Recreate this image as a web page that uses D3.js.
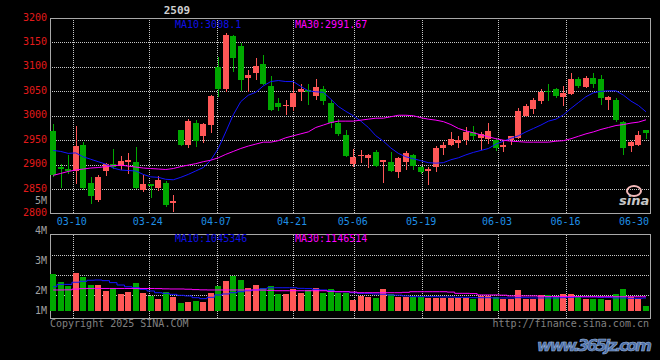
<!DOCTYPE html>
<html>
<head>
<meta charset="utf-8">
<script src="https://cdn.jsdelivr.net/npm/d3@7"></script>
<style>
    body { margin: 0; background: #000; }
    svg { display: block; }
</style>
</head>
<body>
<div id="chart"></div>
<script>
/*
 * K-line chart 2509, daily candles 2025-03-04 .. 2025-06-30
 */
var dates = [
    "03-04", "03-05", "03-06", "03-07", "03-10", "03-11", "03-12", "03-13", "03-14", "03-17",
    "03-18", "03-19", "03-20", "03-21", "03-24", "03-25", "03-26", "03-27", "03-28", "03-31",
    "04-01", "04-02", "04-03", "04-07", "04-08", "04-09", "04-10", "04-11", "04-14", "04-15",
    "04-16", "04-17", "04-18", "04-21", "04-22", "04-23", "04-24", "04-25", "04-28", "04-29",
    "04-30", "05-06", "05-07", "05-08", "05-09", "05-12", "05-13", "05-14", "05-15", "05-16",
    "05-19", "05-20", "05-21", "05-22", "05-23", "05-26", "05-27", "05-28", "05-29", "05-30",
    "06-03", "06-04", "06-05", "06-06", "06-09", "06-10", "06-11", "06-12", "06-13", "06-16",
    "06-17", "06-18", "06-19", "06-20", "06-23", "06-24", "06-25", "06-26", "06-27", "06-30"
];
var openP = [
    2969, 2895, 2891, 2886, 2940, 2862, 2828, 2886, 2901, 2898,
    2905, 2905, 2848, 2860, 2853, 2862, 2822, 2971, 2940, 2986,
    2959, 2981, 3100, 3055, 3163, 3142, 3078, 3087, 3106, 3061,
    3027, 3019, 3018, 3048, 3052, 3040, 3055, 3027, 2986, 2961,
    2902, 2917, 2914, 2926, 2905, 2906, 2884, 2906, 2920, 2896,
    2888, 2896, 2935, 2940, 2945, 2950, 2966, 2955, 2952, 2950,
    2937, 2950, 2955, 3000, 3014, 3030, 3051, 3055, 3039, 3044,
    3075, 3059, 3078, 3075, 3032, 3032, 2988, 2939, 2940, 2970
];
var highP = [
    2983, 2901, 2920, 2979, 2946, 2875, 2879, 2903, 2931, 2918,
    2924, 2936, 2879, 2861, 2877, 2867, 2838, 2971, 2993, 2991,
    2986, 3042, 3121, 3169, 3165, 3148, 3093, 3119, 3124, 3081,
    3037, 3032, 3066, 3064, 3065, 3075, 3061, 3032, 2993, 2971,
    2931, 2930, 2922, 2930, 2909, 2925, 2916, 2927, 2922, 2898,
    2895, 2938, 2947, 2967, 2959, 2976, 2979, 2966, 2986, 2954,
    2950, 2959, 3015, 3024, 3037, 3055, 3065, 3057, 3061, 3087,
    3080, 3081, 3087, 3083, 3040, 3036, 2989, 2949, 2969, 2971
];
var lowP = [
    2875, 2852, 2881, 2860, 2848, 2820, 2824, 2877, 2892, 2888,
    2880, 2851, 2845, 2832, 2847, 2814, 2804, 2938, 2933, 2937,
    2945, 2964, 3039, 3048, 3090, 3050, 3049, 3073, 3063, 3010,
    3010, 3001, 3010, 3030, 3022, 3032, 3023, 2974, 2959, 2916,
    2896, 2904, 2894, 2896, 2863, 2884, 2873, 2888, 2890, 2880,
    2858, 2884, 2919, 2939, 2935, 2940, 2950, 2930, 2942, 2927,
    2925, 2940, 2953, 2998, 3004, 3024, 3030, 3037, 3019, 3042,
    3056, 3057, 3056, 3021, 3012, 2988, 2920, 2925, 2939, 2953
];
var closeP = [
    2879, 2892, 2886, 2938, 2853, 2836, 2875, 2901, 2895, 2908,
    2909, 2852, 2860, 2857, 2868, 2818, 2826, 2940, 2989, 2949,
    2984, 3040, 3055, 3165, 3119, 3074, 3083, 3102, 3065, 3012,
    3018, 3022, 3046, 3055, 3048, 3059, 3030, 2986, 2963, 2918,
    2916, 2920, 2920, 2898, 2909, 2886, 2914, 2924, 2898, 2885,
    2891, 2933, 2940, 2953, 2950, 2967, 2959, 2962, 2969, 2933,
    2940, 2959, 3010, 3020, 3032, 3048, 3048, 3040, 3046, 3075,
    3061, 3078, 3065, 3037, 3039, 2991, 2935, 2947, 2961, 2964
];
var ma10 = [
    2929, 2927, 2923, 2924, 2916, 2911, 2906, 2901, 2893, 2889,
    2888, 2887, 2880, 2875, 2874, 2870, 2869, 2874, 2880, 2887,
    2894, 2909, 2933, 2967, 3002, 3029, 3042, 3048, 3061, 3070,
    3072, 3070, 3070, 3060, 3051, 3049, 3048, 3034, 3019, 3009,
    3000, 2989, 2976, 2959, 2948, 2934, 2923, 2916, 2912, 2908,
    2904, 2903, 2904, 2910, 2914, 2920, 2925, 2929, 2933, 2942,
    2948, 2954, 2959, 2967, 2974, 2981, 2989, 2993, 3002, 3015,
    3027, 3039, 3047, 3050, 3051, 3051, 3042, 3030, 3021, 3008.1
];
var ma30 = [
    2878, 2882, 2886, 2889, 2891, 2893, 2894, 2896, 2898, 2899,
    2897, 2895, 2893, 2892, 2891, 2890, 2892, 2896, 2899, 2902,
    2906, 2909, 2914, 2921, 2927, 2933, 2938, 2942, 2946, 2946,
    2949, 2955, 2959, 2963, 2967, 2976, 2981, 2986, 2989, 2989,
    2989, 2991, 2993, 2995, 2995, 2998, 3001, 3001, 3000, 2996,
    2993, 2991, 2988, 2982, 2974, 2969, 2965, 2961, 2957, 2953,
    2950, 2948, 2947, 2946, 2946, 2946, 2946, 2948, 2949, 2953,
    2958, 2963, 2967, 2972, 2976, 2980, 2982, 2985, 2987, 2991.67
];
// volume in millions
var volume = [
    3.00, 2.33, 2.01, 3.08, 2.71, 2.09, 2.09, 1.61, 1.82, 1.37,
    1.55, 2.25, 1.47, 1.23, 0.96, 1.55, 1.13, 0.64, 0.72, 0.83,
    0.70, 1.47, 2.01, 2.41, 2.84, 2.49, 1.82, 2.09, 1.82, 2.03,
    1.37, 1.37, 1.77, 1.47, 1.69, 1.82, 1.47, 1.77, 1.42, 1.47,
    0.88, 1.21, 1.13, 1.05, 1.77, 1.37, 1.15, 1.15, 1.10, 1.10,
    1.07, 1.04, 1.06, 1.08, 1.05, 1.07, 0.96, 1.21, 1.21, 1.10,
    0.96, 0.96, 1.69, 0.96, 0.96, 1.29, 1.26, 1.15, 1.37, 1.37,
    1.10, 0.96, 0.96, 0.96, 0.88, 1.37, 1.77, 1.10, 0.96, 0.40
];
var volMa10 = [
    1.95, 2.14, 2.14, 2.31, 2.39, 2.47, 2.49, 2.44, 2.28, 2.09,
    1.95, 1.87, 1.74, 1.61, 1.47, 1.42, 1.34, 1.26, 1.21, 1.07,
    0.99, 1.10, 1.29, 1.37, 1.47, 1.55, 1.63, 1.69, 1.79, 1.87,
    1.87, 1.87, 1.87, 1.82, 1.80, 1.74, 1.69, 1.63, 1.55, 1.55,
    1.47, 1.42, 1.42, 1.37, 1.35, 1.29, 1.27, 1.21, 1.15, 1.15,
    1.15, 1.15, 1.13, 1.13, 1.10, 1.10, 1.07, 1.07, 1.07, 1.05,
    1.05, 1.05, 1.07, 1.07, 1.05, 1.05, 1.05, 1.05, 1.07, 1.10,
    1.13, 1.13, 1.13, 1.10, 1.10, 1.05, 1.05, 1.02, 1.02, 1.045
];
var volMa30 = [
    1.69, 1.69, 1.70, 1.76, 1.80, 1.81, 1.81, 1.81, 1.81, 1.81,
    1.81, 1.81, 1.81, 1.81, 1.80, 1.78, 1.77, 1.77, 1.75, 1.72,
    1.70, 1.69, 1.69, 1.69, 1.69, 1.69, 1.69, 1.69, 1.68, 1.66,
    1.63, 1.63, 1.63, 1.63, 1.63, 1.63, 1.63, 1.58, 1.55, 1.55,
    1.52, 1.47, 1.47, 1.47, 1.47, 1.47, 1.47, 1.50, 1.55, 1.55,
    1.55, 1.55, 1.55, 1.52, 1.42, 1.42, 1.40, 1.29, 1.29, 1.29,
    1.27, 1.21, 1.21, 1.21, 1.21, 1.19, 1.16, 1.16, 1.16, 1.16,
    1.16, 1.15, 1.15, 1.15, 1.15, 1.15, 1.15, 1.15, 1.147, 1.147
];
var priceTicks = [3200, 3150, 3100, 3050, 3000, 2950, 2900, 2850, 2800];
var volTicks = [5, 4, 3, 2, 1];
var dateTicks = ["03-10", "03-24", "04-07", "04-21", "05-06", "05-19", "06-03", "06-16", "06-30"];
var title = "2509";
var maLabels = {price: ["MA10:3008.1", "MA30:2991.67"], vol: ["MA10:1045346", "MA30:1146514"]};

var W = 660, H = 360;
var left = 50, right = 650;
var pTop = 18, pBottom = 213.5;
var vTop = 234.5, vBottom = 318.5, vBase = 311;
var cUp = "#ff5757", cDown = "#00a800", cMa10 = "#1414ff", cMa30 = "#ff00ff";
var font = "'DejaVu Sans Mono', monospace";

var svg = d3.select("#chart").append("svg").attr("width", W).attr("height", H)
        .style("background", "#000");

var idx = d3.range(dates.length);
var x = d3.scaleBand().domain(idx).range([49.45, 649.75]).paddingInner(0.2).paddingOuter(0.1);
// date grid of the source sits on its own index scale
var xGrid = d3.scaleLinear().domain([1, dates.length]).range([left, right]);
var y = d3.scaleLinear().domain([2800, 3200]).range([pBottom, pTop]);
var yVol = d3.scaleLinear().domain([0, 4]).range([vBase, vBase - 4 * 12.44]);
var yVolLabel = d3.scaleLinear().domain([2, 3]).range([290.5, 260.5]);

function cx(i) {
    return Math.round(x(i) + x.bandwidth() / 2) + 0.5;
}

/*
 * grid and frames
 */
var gridDates = dateTicks.filter(function (d) { return d !== "06-30"; });
var grid = svg.append("g").attr("stroke", "#c8c8c8").attr("stroke-dasharray", "1,1")
        .attr("shape-rendering", "crispEdges");
grid.selectAll(".hp").data(priceTicks.slice(1, -1)).enter().append("line")
        .attr("x1", left).attr("x2", right)
        .attr("y1", function (d) { return Math.round(y(d)) + 0.5; })
        .attr("y2", function (d) { return Math.round(y(d)) + 0.5; });
grid.selectAll(".hv").data([1, 2, 3]).enter().append("line")
        .attr("x1", left).attr("x2", right)
        .attr("y1", function (d) { return vTop + d * 20 + 0.5; })
        .attr("y2", function (d) { return vTop + d * 20 + 0.5; });
gridDates.forEach(function (d) {
    var gx = Math.round(xGrid(dates.indexOf(d))) + 0.5;
    grid.append("line").attr("x1", gx).attr("x2", gx).attr("y1", pTop).attr("y2", pBottom);
    grid.append("line").attr("x1", gx).attr("x2", gx).attr("y1", vTop).attr("y2", vBottom);
});

var frame = svg.append("g").attr("fill", "none").attr("stroke", "#a8a8a8")
        .attr("shape-rendering", "crispEdges");
frame.append("rect").attr("x", left).attr("y", pTop).attr("width", right - left).attr("height", pBottom - pTop);
frame.append("rect").attr("x", left).attr("y", vTop).attr("width", right - left).attr("height", vBottom - vTop);

/*
 * candles
 */
var candles = svg.append("g").attr("shape-rendering", "crispEdges");
candles.selectAll("line").data(idx).enter().append("line")
        .attr("x1", cx).attr("x2", cx)
        .attr("y1", function (i) { return y(highP[i]); })
        .attr("y2", function (i) { return y(lowP[i]); })
        .attr("stroke", function (i) { return closeP[i] >= openP[i] ? cUp : cDown; });
candles.selectAll("rect").data(idx).enter().append("rect")
        .attr("x", function (i) { return Math.round(x(i)); })
        .attr("width", 6)
        .attr("y", function (i) { return y(Math.max(openP[i], closeP[i])); })
        .attr("height", function (i) { return Math.max(1.5, Math.abs(y(openP[i]) - y(closeP[i]))); })
        .attr("fill", function (i) { return closeP[i] >= openP[i] ? cUp : cDown; });

var line = d3.line().x(function (d, i) { return x(i) + x.bandwidth() / 2; }).y(function (d) { return y(d); });
svg.append("path").datum(ma10).attr("d", line).attr("fill", "none").attr("stroke", cMa10).attr("stroke-width", 1);
svg.append("path").datum(ma30).attr("d", line).attr("fill", "none").attr("stroke", cMa30).attr("stroke-width", 1);

/*
 * volume
 */
svg.append("g").attr("shape-rendering", "crispEdges")
        .selectAll("rect").data(idx).enter().append("rect")
        .attr("x", function (i) { return Math.round(x(i)); })
        .attr("width", 6)
        .attr("y", function (i) { return yVol(volume[i]); })
        .attr("height", function (i) { return vBase - yVol(volume[i]); })
        .attr("fill", function (i) { return closeP[i] >= openP[i] ? cUp : cDown; });

var vline = d3.line().curve(d3.curveStep)
        .x(function (d, i) { return x(i) + x.bandwidth() / 2; }).y(function (d) { return yVol(d); });
svg.append("path").datum(volMa10).attr("d", vline).attr("fill", "none").attr("stroke", cMa10);
svg.append("path").datum(volMa30).attr("d", vline).attr("fill", "none").attr("stroke", cMa30);

/*
 * texts
 */
var txt = svg.append("g").style("font-family", font).style("font-size", "10px");
txt.selectAll(".py").data(priceTicks).enter().append("text")
        .attr("x", 47).attr("y", function (d) { return y(d) + 2.5; })
        .attr("text-anchor", "end").attr("fill", "#e31a1a")
        .text(function (d) { return d; });
txt.selectAll(".vy").data(volTicks).enter().append("text")
        .attr("x", 47).attr("y", function (d) { return Math.min(yVolLabel(d), 310) + 3.5; })
        .attr("text-anchor", "end").attr("fill", "#a0a0a0")
        .text(function (d) { return d + "M"; });
txt.selectAll(".dx").data(dateTicks).enter().append("text")
        .attr("x", function (d) { return d === "06-30" ? 649 : xGrid(dates.indexOf(d)) - 1; })
        .attr("y", 225)
        .attr("text-anchor", function (d) { return d === "06-30" ? "end" : "middle"; })
        .attr("fill", "#1f8fe5")
        .text(function (d) { return d; });

txt.append("text").attr("x", 175).attr("y", 27.5).attr("fill", "#1010e6").text(maLabels.price[0]);
txt.append("text").attr("x", 295).attr("y", 27.5).attr("fill", cMa30).text(maLabels.price[1]);
txt.append("text").attr("x", 175).attr("y", 241.5).attr("fill", "#1010e6").text(maLabels.vol[0]);
txt.append("text").attr("x", 295).attr("y", 241.5).attr("fill", cMa30).text(maLabels.vol[1]);
txt.append("text").attr("x", 177).attr("y", 14).attr("text-anchor", "middle")
        .attr("fill", "#cfcfcf").style("font-size", "11px").style("font-weight", "bold").text(title);
txt.append("text").attr("x", 50).attr("y", 327).attr("fill", "#808080").text("Copyright 2025 SINA.COM");
txt.append("text").attr("x", 649).attr("y", 327).attr("text-anchor", "end").attr("fill", "#808080")
        .text("http://finance.sina.com.cn");

// sina logo
var logo = svg.append("g");
logo.append("ellipse").attr("cx", 634).attr("cy", 191).attr("rx", 7).attr("ry", 5)
        .attr("fill", "none").attr("stroke", "#f2b8b8").attr("stroke-width", 2);
logo.append("text").attr("x", 619).attr("y", 205).attr("fill", "#c8c8c8")
        .style("font-family", "'DejaVu Sans', sans-serif").style("font-size", "13px")
        .style("font-weight", "bold").style("font-style", "italic").text("sina");

// watermark
svg.append("text").attr("x", 537).attr("y", 351).attr("textLength", 115)
        .attr("fill", "#4a6ea8").attr("stroke", "#9fb6dc").attr("stroke-width", 0.6)
        .style("font-family", "'DejaVu Sans', sans-serif").style("font-size", "16px")
        .style("font-weight", "bold").style("font-style", "italic")
        .text("www.365jz.com");
</script>
</body>
</html>
